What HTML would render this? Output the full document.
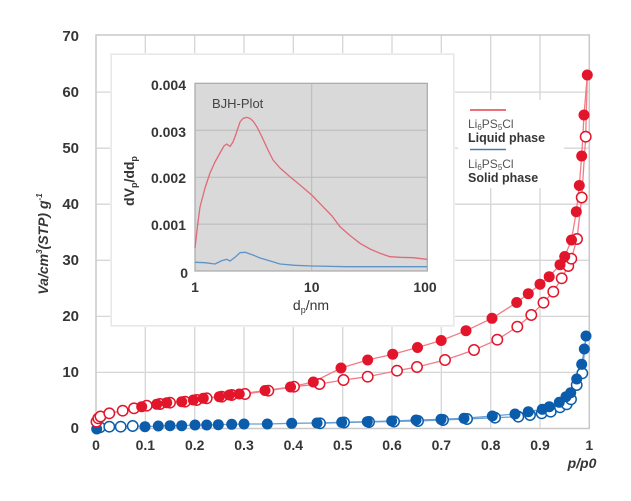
<!DOCTYPE html>
<html><head><meta charset="utf-8"><style>
html,body{margin:0;padding:0;background:#fff;}
svg{display:block;}
text{font-family:"Liberation Sans",sans-serif;}
</style></head><body>
<svg width="631" height="501" viewBox="0 0 631 501" xmlns="http://www.w3.org/2000/svg">
<rect width="631" height="501" fill="#fff"/>
<!-- grid -->
<g stroke="#d6d6d6" stroke-width="1.3">
<line x1="145.3" y1="35" x2="145.3" y2="428.5"/>
<line x1="194.7" y1="35" x2="194.7" y2="428.5"/>
<line x1="244" y1="35" x2="244" y2="428.5"/>
<line x1="293.3" y1="35" x2="293.3" y2="428.5"/>
<line x1="342.7" y1="35" x2="342.7" y2="428.5"/>
<line x1="392" y1="35" x2="392" y2="428.5"/>
<line x1="441.3" y1="35" x2="441.3" y2="428.5"/>
<line x1="490.7" y1="35" x2="490.7" y2="428.5"/>
<line x1="540" y1="35" x2="540" y2="428.5"/>
<line x1="96" y1="372.4" x2="589.3" y2="372.4"/>
<line x1="96" y1="316.4" x2="589.3" y2="316.4"/>
<line x1="96" y1="260.3" x2="589.3" y2="260.3"/>
<line x1="96" y1="204.2" x2="589.3" y2="204.2"/>
<line x1="96" y1="148.2" x2="589.3" y2="148.2"/>
<line x1="96" y1="92.1" x2="589.3" y2="92.1"/>
</g>
<rect x="96" y="35" width="493.3" height="393.5" fill="none" stroke="#c9c9c9" stroke-width="1.5"/>
<!-- y tick labels -->
<g font-size="15" font-weight="bold" fill="#363636" text-anchor="end">
<text x="79" y="433">0</text>
<text x="79" y="377">10</text>
<text x="79" y="321">20</text>
<text x="79" y="265">30</text>
<text x="79" y="209">40</text>
<text x="79" y="153">50</text>
<text x="79" y="97">60</text>
<text x="79" y="41">70</text>
</g>
<g font-size="14" font-weight="bold" fill="#363636" text-anchor="middle">
<text x="96" y="450">0</text>
<text x="145.3" y="450">0.1</text>
<text x="194.7" y="450">0.2</text>
<text x="244" y="450">0.3</text>
<text x="293.3" y="450">0.4</text>
<text x="342.7" y="450">0.5</text>
<text x="392" y="450">0.6</text>
<text x="441.3" y="450">0.7</text>
<text x="490.7" y="450">0.8</text>
<text x="540" y="450">0.9</text>
<text x="589.3" y="450">1</text>
</g>
<text x="582" y="468" font-size="14" font-weight="bold" font-style="italic" fill="#363636" text-anchor="middle">p/p0</text>
<text transform="translate(48,244) rotate(-90)" font-size="14" font-weight="bold" font-style="italic" fill="#363636" text-anchor="middle">Va/cm<tspan font-size="8" dy="-6">3</tspan><tspan dy="6">(STP) g</tspan><tspan font-size="8" dy="-6">-1</tspan></text>

<!-- inset box -->
<rect x="110" y="53" width="345" height="274" fill="#f1f1f1"/>
<rect x="111" y="54" width="343" height="272" fill="#e8e8e8"/>
<rect x="112" y="55" width="341" height="270" fill="#fff"/>
<rect x="195" y="83.3" width="232.3" height="187.7" fill="#d9d9d9" stroke="#a8a8a8" stroke-width="1.2"/>
<g stroke="#b9b9b9" stroke-width="1">
<line x1="195" y1="224.1" x2="427.3" y2="224.1"/>
<line x1="195" y1="177.2" x2="427.3" y2="177.2"/>
<line x1="195" y1="130.2" x2="427.3" y2="130.2"/>
<line x1="311.7" y1="83.3" x2="311.7" y2="271"/>
</g>
<text x="212" y="108" font-size="13" fill="#444">BJH-Plot</text>
<polyline fill="none" stroke="#e06a78" stroke-width="1.3" stroke-linejoin="round" points="195,248 197.5,226 200,207 205,188 210,173 215,162 220,153 224,146 226.7,144 230,146.5 233,142 236,134 240,122 243,118.5 246.7,117.3 250,118.5 253,121 257,127 262,137 268,150 273,160 280,168 290,176.7 300,185 311.7,195 323,206.7 332,216 340,226.7 350,235.5 360,243.3 370,249 380,253.3 390,256.7 400,257.3 413,257.7 427,259.3"/>
<polyline fill="none" stroke="#5f93c8" stroke-width="1.3" stroke-linejoin="round" points="195,262.3 205,262.7 215,264 219,262 221.7,260.7 226.7,259.3 230,261 235,257.3 240,252.7 245,252.3 253,255 260,258 267,260 280,264 295,265.3 311.7,266 346.7,266.7 427,266.7"/>
<g font-size="14" font-weight="bold" fill="#363636" text-anchor="end">
<text x="186" y="90">0.004</text>
<text x="186" y="137">0.003</text>
<text x="186" y="183">0.002</text>
<text x="186" y="230">0.001</text>
<text x="188" y="278">0</text>
</g>
<g font-size="14" font-weight="bold" fill="#363636" text-anchor="middle">
<text x="195" y="292">1</text>
<text x="311.7" y="292">10</text>
<text x="425" y="292">100</text>
</g>
<text x="311" y="310" font-size="14" fill="#363636" text-anchor="middle">d<tspan font-size="9" dy="3">p</tspan><tspan dy="-3">/nm</tspan></text>
<text transform="translate(134,181) rotate(-90)" font-size="14" font-weight="bold" fill="#363636" text-anchor="middle">dV<tspan font-size="9" dy="3">p</tspan><tspan dy="-3">/dd</tspan><tspan font-size="9" dy="3">p</tspan></text>

<!-- legend -->
<rect x="458" y="100" width="106" height="88" fill="#fff"/>
<line x1="470" y1="110" x2="506" y2="110" stroke="#e8404e" stroke-width="1.6"/>
<text x="468" y="128" font-size="12" fill="#555">Li<tspan font-size="8" dy="2">6</tspan><tspan dy="-2">PS</tspan><tspan font-size="8" dy="2">5</tspan><tspan dy="-2">Cl</tspan></text>
<text x="468" y="142" font-size="12.5" font-weight="bold" fill="#363636">Liquid phase</text>
<line x1="470" y1="149.5" x2="506" y2="149.5" stroke="#4a78b8" stroke-width="1.6"/>
<text x="468" y="168" font-size="12" fill="#555">Li<tspan font-size="8" dy="2">6</tspan><tspan dy="-2">PS</tspan><tspan font-size="8" dy="2">5</tspan><tspan dy="-2">Cl</tspan></text>
<text x="468" y="182" font-size="12.5" font-weight="bold" fill="#363636">Solid phase</text>

<!-- blue series -->
<polyline fill="none" stroke="#6b9fd3" stroke-width="1.3" points="96.7,429 100,427.3 109.3,426.7 120.7,426.7 132.7,426 145,426.7 158.3,426 170,425.7 181.7,425.7 195,425 206.7,425 218.3,424.7 231.7,424.3 244,424 267.3,424 291.7,423.3 317,423 341.7,422.3 367.3,421.7 391.7,421 416,420 441,419.3 464,418.3 492.3,416 515,414 528.3,411.7 542.3,409.3 549.3,406.7 559.3,402.3 566,396.7 570.7,392.7 576.7,379 581.7,364.3 584.3,349 586,336"/>
<polyline fill="none" stroke="#6b9fd3" stroke-width="1.3" points="586,336 582.3,373.3 576.7,385 571,399.3 566.7,404.3 560,407.3 550.7,411.7 541.7,413.3 530,415 518.3,416.7 495,417.7 467,419 443,420 418,421 394,421.5 369,422 344,422.5 320,423.3"/>
<g fill="#fff" stroke="#0b5cab" stroke-width="1.5">
<circle cx="100" cy="427.3" r="5.2"/><circle cx="109.3" cy="426.7" r="5.2"/><circle cx="120.7" cy="426.7" r="5.2"/><circle cx="132.7" cy="426" r="5.2"/>
<circle cx="320" cy="423.3" r="5.2"/><circle cx="344" cy="422.5" r="5.2"/><circle cx="369" cy="422" r="5.2"/><circle cx="394" cy="421.5" r="5.2"/><circle cx="418" cy="421" r="5.2"/><circle cx="443" cy="420" r="5.2"/><circle cx="467" cy="419" r="5.2"/>
<circle cx="495" cy="417.7" r="5.2"/><circle cx="518.3" cy="416.7" r="5.2"/><circle cx="530" cy="415" r="5.2"/><circle cx="541.7" cy="413.3" r="5.2"/><circle cx="550.7" cy="411.7" r="5.2"/><circle cx="560" cy="407.3" r="5.2"/><circle cx="566.7" cy="404.3" r="5.2"/><circle cx="571" cy="399.3" r="5.2"/><circle cx="576.7" cy="385" r="5.2"/><circle cx="582.3" cy="373.3" r="5.2"/>
</g>
<g fill="#0b5cab">
<circle cx="96.7" cy="429" r="5.5"/>
<circle cx="145" cy="426.7" r="5.5"/><circle cx="158.3" cy="426" r="5.5"/><circle cx="170" cy="425.7" r="5.5"/><circle cx="181.7" cy="425.7" r="5.5"/><circle cx="195" cy="425" r="5.5"/><circle cx="206.7" cy="425" r="5.5"/><circle cx="218.3" cy="424.7" r="5.5"/><circle cx="231.7" cy="424.3" r="5.5"/><circle cx="244" cy="424" r="5.5"/><circle cx="267.3" cy="424" r="5.5"/><circle cx="291.7" cy="423.3" r="5.5"/><circle cx="317" cy="423" r="5.5"/><circle cx="341.7" cy="422.3" r="5.5"/><circle cx="367.3" cy="421.7" r="5.5"/><circle cx="391.7" cy="421" r="5.5"/><circle cx="416" cy="420" r="5.5"/><circle cx="441" cy="419.3" r="5.5"/><circle cx="464" cy="418.3" r="5.5"/><circle cx="492.3" cy="416" r="5.5"/><circle cx="515" cy="414" r="5.5"/><circle cx="528.3" cy="411.7" r="5.5"/><circle cx="542.3" cy="409.3" r="5.5"/><circle cx="549.3" cy="406.7" r="5.5"/><circle cx="559.3" cy="402.3" r="5.5"/><circle cx="566" cy="396.7" r="5.5"/><circle cx="570.7" cy="392.7" r="5.5"/><circle cx="576.7" cy="379" r="5.5"/><circle cx="581.7" cy="364.3" r="5.5"/><circle cx="584.3" cy="349" r="5.5"/><circle cx="586" cy="336" r="5.5"/>
</g>

<!-- red series -->
<polyline fill="none" stroke="#f07c88" stroke-width="1.3" points="96.5,421.7 98.3,418.3 100.5,416.5 109.3,413.3 122.7,410.7 134,408.3 141.7,406.7 156.7,404.3 166.7,402.7 181.7,401.7 193.3,400 203.3,398.3 219.3,396.7 229.3,395 239.3,394 265,390.5 290.5,387 313.3,382 341,368 367.7,360 392.7,354.2 417.5,347.5 441.2,340.5 466,330.7 492,318.3 516.7,302.5 528.3,293.7 540,284.2 549.2,276.7 560,264.7 564.7,256.5 571.5,240 576.3,211.7 579.3,185.5 581.7,156 584,115 587.3,75"/>
<polyline fill="none" stroke="#f07c88" stroke-width="1.3" points="587.3,75 585.7,136.7 581.7,197.5 577,239 571.3,258.7 568.3,266 561.7,278.3 553.3,291.7 543.5,302.7 531.3,315 517.3,326.7 497.3,339.7 474,350 445,360 417,367 397,370.7 367.7,376.7 343.5,380 319.5,384 294,386.7 268.3,390.7 245,394"/>
<g fill="#fff" stroke="#e3152b" stroke-width="1.5">
<circle cx="96.5" cy="421.7" r="5.2"/><circle cx="98.3" cy="418.3" r="5.2"/><circle cx="100.5" cy="416.5" r="5.2"/><circle cx="109.3" cy="413.3" r="5.2"/><circle cx="122.7" cy="410.7" r="5.2"/><circle cx="134" cy="408.3" r="5.2"/><circle cx="146.7" cy="405.7" r="5.2"/><circle cx="160" cy="404" r="5.2"/><circle cx="170" cy="402.7" r="5.2"/><circle cx="185" cy="401.7" r="5.2"/><circle cx="196.7" cy="400" r="5.2"/><circle cx="206.7" cy="398.3" r="5.2"/><circle cx="221.7" cy="396.7" r="5.2"/><circle cx="231.7" cy="395" r="5.2"/><circle cx="245" cy="394" r="5.2"/><circle cx="268.3" cy="390.7" r="5.2"/><circle cx="294" cy="386.7" r="5.2"/><circle cx="319.5" cy="384" r="5.2"/><circle cx="343.5" cy="380" r="5.2"/><circle cx="367.7" cy="376.7" r="5.2"/><circle cx="397" cy="370.7" r="5.2"/><circle cx="417" cy="367" r="5.2"/><circle cx="445" cy="360" r="5.2"/><circle cx="474" cy="350" r="5.2"/><circle cx="497.3" cy="339.7" r="5.2"/><circle cx="517.3" cy="326.7" r="5.2"/><circle cx="531.3" cy="315" r="5.2"/><circle cx="543.5" cy="302.7" r="5.2"/><circle cx="553.3" cy="291.7" r="5.2"/><circle cx="561.7" cy="278.3" r="5.2"/><circle cx="568.3" cy="266" r="5.2"/><circle cx="571.3" cy="258.7" r="5.2"/><circle cx="577" cy="239" r="5.2"/><circle cx="581.7" cy="197.5" r="5.2"/><circle cx="585.7" cy="136.7" r="5.2"/>
</g>
<g fill="#e3152b">
<circle cx="141.7" cy="406.7" r="5.5"/><circle cx="156.7" cy="404.3" r="5.5"/><circle cx="166.7" cy="402.7" r="5.5"/><circle cx="181.7" cy="401.7" r="5.5"/><circle cx="193.3" cy="400" r="5.5"/><circle cx="203.3" cy="398.3" r="5.5"/><circle cx="219.3" cy="396.7" r="5.5"/><circle cx="229.3" cy="395" r="5.5"/><circle cx="239.3" cy="394" r="5.5"/><circle cx="265" cy="390.5" r="5.5"/><circle cx="290.5" cy="387" r="5.5"/><circle cx="313.3" cy="382" r="5.5"/><circle cx="341" cy="368" r="5.5"/><circle cx="367.7" cy="360" r="5.5"/><circle cx="392.7" cy="354.2" r="5.5"/><circle cx="417.5" cy="347.5" r="5.5"/><circle cx="441.2" cy="340.5" r="5.5"/><circle cx="466" cy="330.7" r="5.5"/><circle cx="492" cy="318.3" r="5.5"/><circle cx="516.7" cy="302.5" r="5.5"/><circle cx="528.3" cy="293.7" r="5.5"/><circle cx="540" cy="284.2" r="5.5"/><circle cx="549.2" cy="276.7" r="5.5"/><circle cx="560" cy="264.7" r="5.5"/><circle cx="564.7" cy="256.5" r="5.5"/><circle cx="571.5" cy="240" r="5.5"/><circle cx="576.3" cy="211.7" r="5.5"/><circle cx="579.3" cy="185.5" r="5.5"/><circle cx="581.7" cy="156" r="5.5"/><circle cx="584" cy="115" r="5.5"/><circle cx="587.3" cy="75" r="5.5"/>
</g>
</svg>
</body></html>
